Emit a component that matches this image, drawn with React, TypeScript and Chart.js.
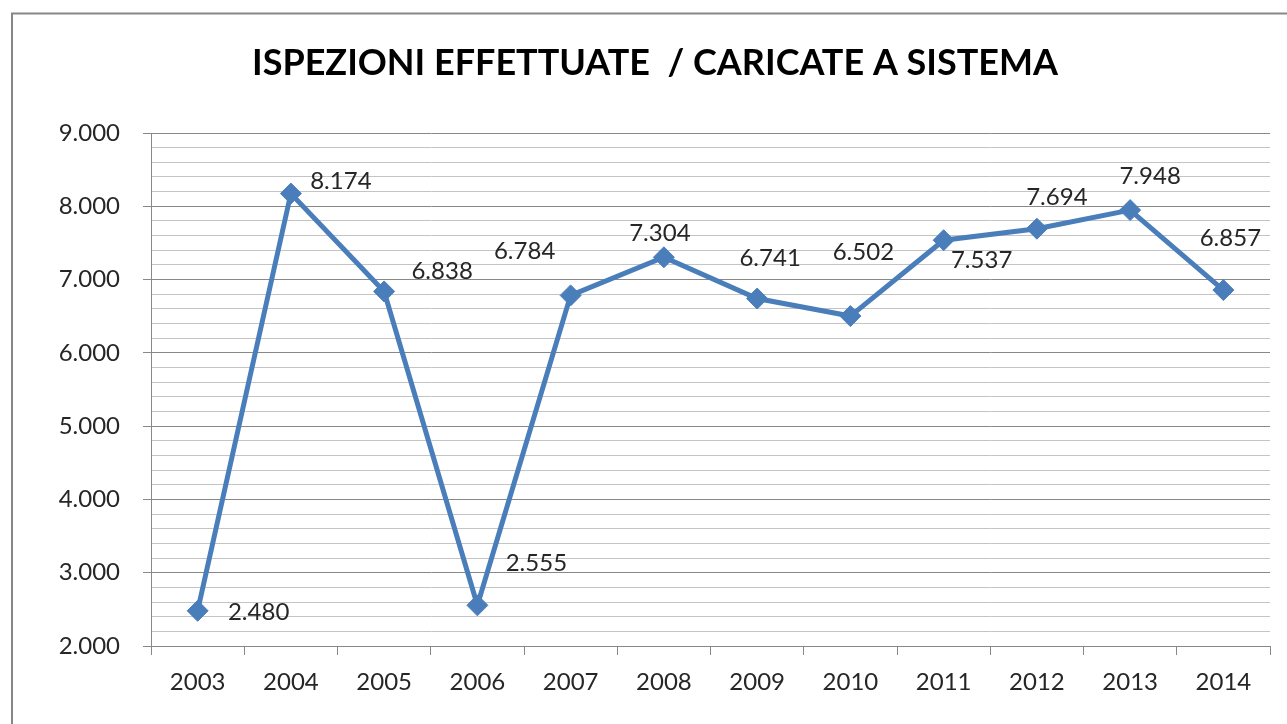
import React, { useEffect, useRef } from 'react';
import { Chart, registerables } from 'chart.js';

Chart.register(...registerables);

const TITLE = 'ISPEZIONI EFFETTUATE  / CARICATE A SISTEMA';
const YEARS = ['2003', '2004', '2005', '2006', '2007', '2008', '2009', '2010', '2011', '2012', '2013', '2014'];
const INSPECTIONS = [2480, 8174, 6838, 2555, 6784, 7304, 6741, 6502, 7537, 7694, 7948, 6857];
const Y_MIN = 2000;
const Y_MAX = 9000;
const Y_MAJOR_STEP = 1000;
const Y_MINOR_STEP = 200;
// pixel offsets of each value label from its point (placement only)
const LABEL_OFFSETS: [number, number][] = [
  [61, 1], [50, -12], [58, -20], [59, -42], [-46, -44], [-4, -24],
  [13, -40], [13, -64], [38, 20], [20, -31], [20, -34], [7, -52],
];

const LINE_COLOR = '#4A7EBB';
const TEXT_COLOR = '#262626';
const MAJOR_GRID = '#888888';
const MINOR_GRID = '#c4c4c4';
const FONT_FAMILY = 'Lato, "Open Sans", sans-serif';
const FONT_SIZE = 24;

const fmt = (v: number) => String(Math.round(v)).replace(/\B(?=(\d{3})+(?!\d))/g, '.');

const framePlugin = {
  id: 'frameAndTitle',
  beforeDraw(chart: any) {
    const ctx = chart.ctx;
    ctx.save();
    ctx.strokeStyle = '#878787';
    ctx.lineWidth = 2;
    ctx.strokeRect(12, 13.5, 1400, 1000);
    ctx.restore();
  },
  afterDraw(chart: any) {
    const ctx = chart.ctx;
    ctx.save();
    ctx.fillStyle = '#000000';
    ctx.font = `bold 37px ${FONT_FAMILY}`;
    ctx.textAlign = 'center';
    ctx.textBaseline = 'alphabetic';
    ctx.fillText(TITLE, 655, 75, 806);
    ctx.restore();
  },
};

const valueLabelPlugin = {
  id: 'valueLabels',
  afterDatasetsDraw(chart: any) {
    const ctx = chart.ctx;
    const meta = chart.getDatasetMeta(0);
    ctx.save();
    ctx.fillStyle = TEXT_COLOR;
    ctx.font = `${FONT_SIZE}px ${FONT_FAMILY}`;
    ctx.textAlign = 'center';
    ctx.textBaseline = 'middle';
    meta.data.forEach((pt: any, i: number) => {
      const [dx, dy] = LABEL_OFFSETS[i];
      ctx.fillText(fmt(INSPECTIONS[i]), pt.x + dx, pt.y + dy);
    });
    ctx.restore();
  },
};

export default function App() {
  const canvasRef = useRef<HTMLCanvasElement | null>(null);

  useEffect(() => {
    if (!canvasRef.current) return;
    const chart = new Chart(canvasRef.current, {
      type: 'line',
      data: {
        labels: YEARS,
        datasets: [
          {
            data: INSPECTIONS,
            borderColor: LINE_COLOR,
            backgroundColor: LINE_COLOR,
            borderWidth: 5,
            tension: 0,
            pointStyle: 'rectRot',
            pointRadius: 10.5,
            pointBackgroundColor: LINE_COLOR,
            pointBorderColor: LINE_COLOR,
            pointBorderWidth: 1,
            clip: false as any,
          },
        ],
      },
      options: {
        animation: false,
        responsive: false,
        layout: { padding: { left: 0, right: 17, top: 133, bottom: 0 } },
        plugins: {
          legend: { display: false },
          title: { display: false },
          tooltip: { enabled: false },
        },
        scales: {
          x: {
            type: 'category',
            offset: true,
            grid: {
              offset: true,
              drawOnChartArea: false,
              drawTicks: true,
              tickLength: 9,
              color: MAJOR_GRID,
              lineWidth: 1,
            },
            border: { display: true, color: MAJOR_GRID, width: 1 },
            ticks: {
              color: TEXT_COLOR,
              font: { family: FONT_FAMILY, size: FONT_SIZE },
              padding: 13,
              maxRotation: 0,
              autoSkip: false,
            },
            afterFit(scale: any) {
              scale.height = 78;
            },
          },
          y: {
            type: 'linear',
            min: Y_MIN,
            max: Y_MAX,
            grid: {
              color: (c: any) => (c.tick && c.tick.value % Y_MAJOR_STEP === 0 ? MAJOR_GRID : MINOR_GRID),
              tickColor: (c: any) => (c.tick && c.tick.value % Y_MAJOR_STEP === 0 ? MAJOR_GRID : 'rgba(0,0,0,0)'),
              tickLength: 8,
              lineWidth: 1,
            },
            border: { display: true, color: MAJOR_GRID, width: 1 },
            ticks: {
              stepSize: Y_MINOR_STEP,
              autoSkip: false,
              color: TEXT_COLOR,
              font: { family: FONT_FAMILY, size: FONT_SIZE },
              padding: 23,
              callback: (v: any) => (Number(v) % Y_MAJOR_STEP === 0 ? fmt(Number(v)) : ''),
            },
            afterFit(scale: any) {
              scale.width = 151;
            },
          },
        },
      },
      plugins: [framePlugin, valueLabelPlugin],
    } as any);
    return () => chart.destroy();
  }, []);

  return (
    <div style={{ position: 'fixed', left: 0, top: 0, width: 1287, height: 724, background: '#ffffff' }}>
      <canvas ref={canvasRef} width={1287} height={724} style={{ width: 1287, height: 724, display: 'block' }} />
    </div>
  );
}
